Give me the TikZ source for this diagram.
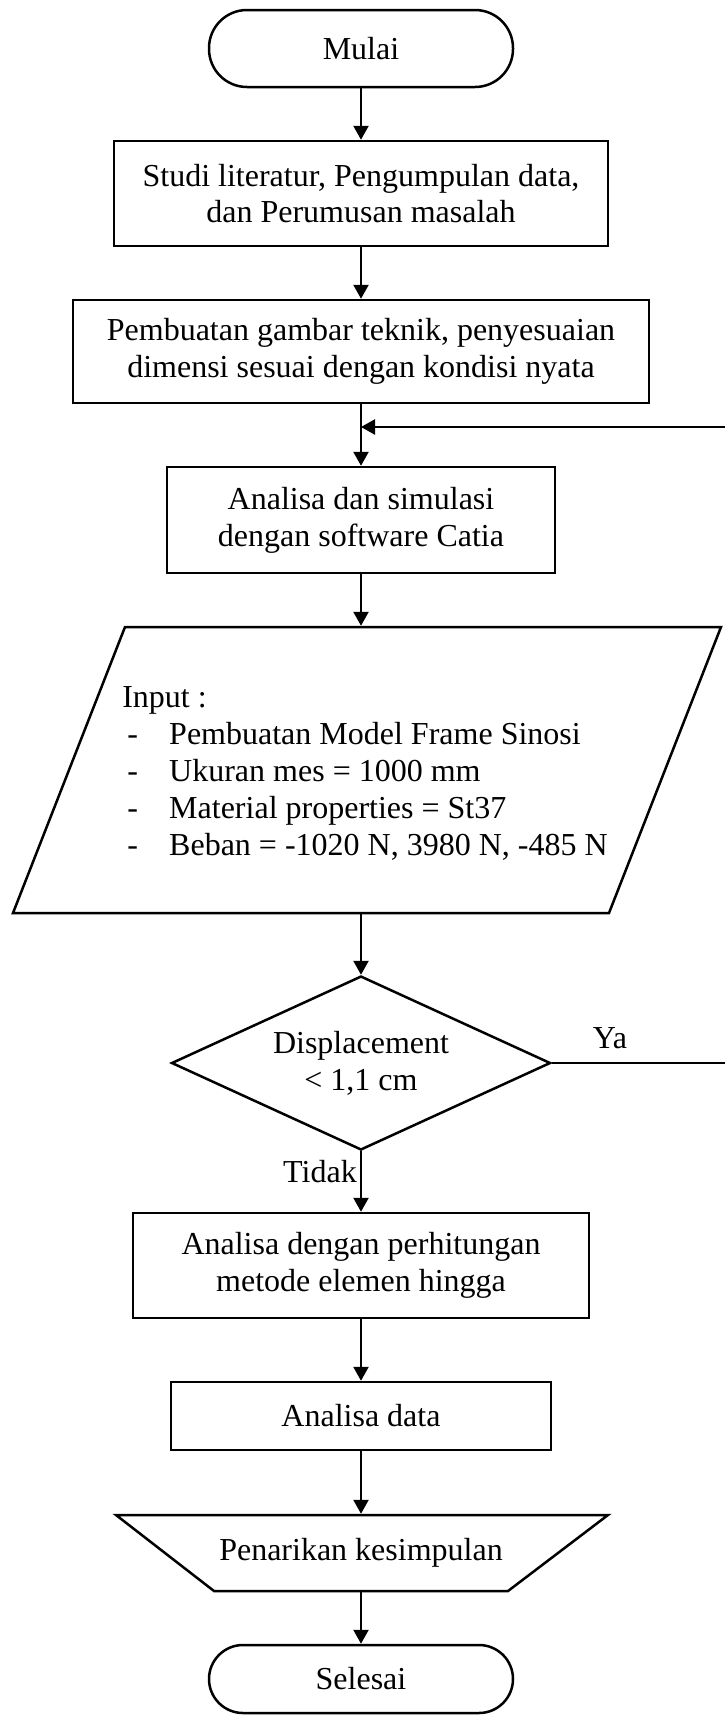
\documentclass[tikz,border=0pt]{standalone}
\usepackage{fontspec}
\setmainfont{Liberation Serif}
\usetikzlibrary{arrows.meta,shapes.geometric}
\begin{document}
\begin{tikzpicture}[x=0.5pt,y=-0.5pt,line width=1.25pt,
  txt/.style={font={\fontsize{16pt}{18.4pt}\selectfont},inner sep=0pt,align=center},
  procbox/.style={txt,draw,rectangle},
  termbox/.style={txt,draw,rectangle,minimum width=152pt},
  ghost/.style={txt,rectangle,minimum width=10pt},
  arr/.style={-{Triangle[width=7.5pt,length=7pt]}}]
\useasboundingbox (0,0) rectangle (725,1715);

% nodes
\node[termbox,minimum height=38.5pt,rounded corners=19pt] (mulai) at (361,48.5) {Mulai};
\node[procbox,minimum width=247pt,minimum height=52.5pt] (b1) at (361,193.5)
  {Studi literatur, Pengumpulan data,\\dan Perumusan masalah};
\node[procbox,minimum width=288pt,minimum height=51.5pt] (b2) at (361,351.5)
  {Pembuatan gambar teknik, penyesuaian\\dimensi sesuai dengan kondisi nyata};
\node[procbox,minimum width=194pt,minimum height=53pt] (b3) at (361,520)
  {Analisa dan simulasi\\dengan software Catia};

% parallelogram (input)
\draw (125,627) -- (721,627) -- (609,913) -- (13,913) -- cycle;
\node[ghost,minimum height=143pt] (para) at (361,770) {};
\node[txt,align=left,anchor=west] (inp) at (121,773.5)
  {Input :\\
   \hspace*{2.5pt}\makebox[21pt][l]{-}Pembuatan Model Frame Sinosi\\
   \hspace*{2.5pt}\makebox[21pt][l]{-}Ukuran mes = 1000 mm\\
   \hspace*{2.5pt}\makebox[21pt][l]{-}Material properties = St37\\
   \hspace*{2.5pt}\makebox[21pt][l]{-}Beban = -1020 N, 3980 N, -485 N};

\node[txt,draw,diamond,aspect=2.18,minimum width=189.5pt,minimum height=87pt] (dia) at (361,1063)
  {Displacement\\< 1,1 cm};
\node[procbox,minimum width=228pt,minimum height=52.5pt] (b4) at (361,1265.5)
  {Analisa dengan perhitungan\\metode elemen hingga};
\node[procbox,minimum width=190pt,minimum height=34pt] (b5) at (361,1416)
  {Analisa data};

% trapezoid (output)
\draw (116,1515) -- (608,1515) -- (508,1591) -- (214,1591) -- cycle;
\node[ghost,minimum height=38pt] (trap) at (361,1553) {Penarikan kesimpulan};

\node[termbox,minimum height=34pt,rounded corners=17pt] (selesai) at (361,1679) {Selesai};

% labels
\node[txt,anchor=east] (tidak) at (358,1172) {Tidak};
\node[txt] (ya) at (610,1038) {Ya};

% connectors
\draw[arr] (mulai.south) -- (b1.north);
\draw[arr] (b1.south) -- (b2.north);
\draw[arr] (b2.south) -- (b3.north);
\draw[arr] (b3.south) -- (para.north);
\draw[arr] (para.south) -- (dia.north);
\draw[arr] (dia.south) -- (b4.north);
\draw[arr] (b4.south) -- (b5.north);
\draw[arr] (b5.south) -- (trap.north);
\draw[arr] (trap.south) -- (selesai.north);

% feedback (Ya) loop
\coordinate (yaR) at (725,1063);
\coordinate (fbR) at (725,427);
\coordinate (fbL) at (361,427);
\draw[line width=0.75pt] (dia.east) -- (yaR);
\draw[arr] (fbR) -- (fbL);
\end{tikzpicture}
\end{document}
